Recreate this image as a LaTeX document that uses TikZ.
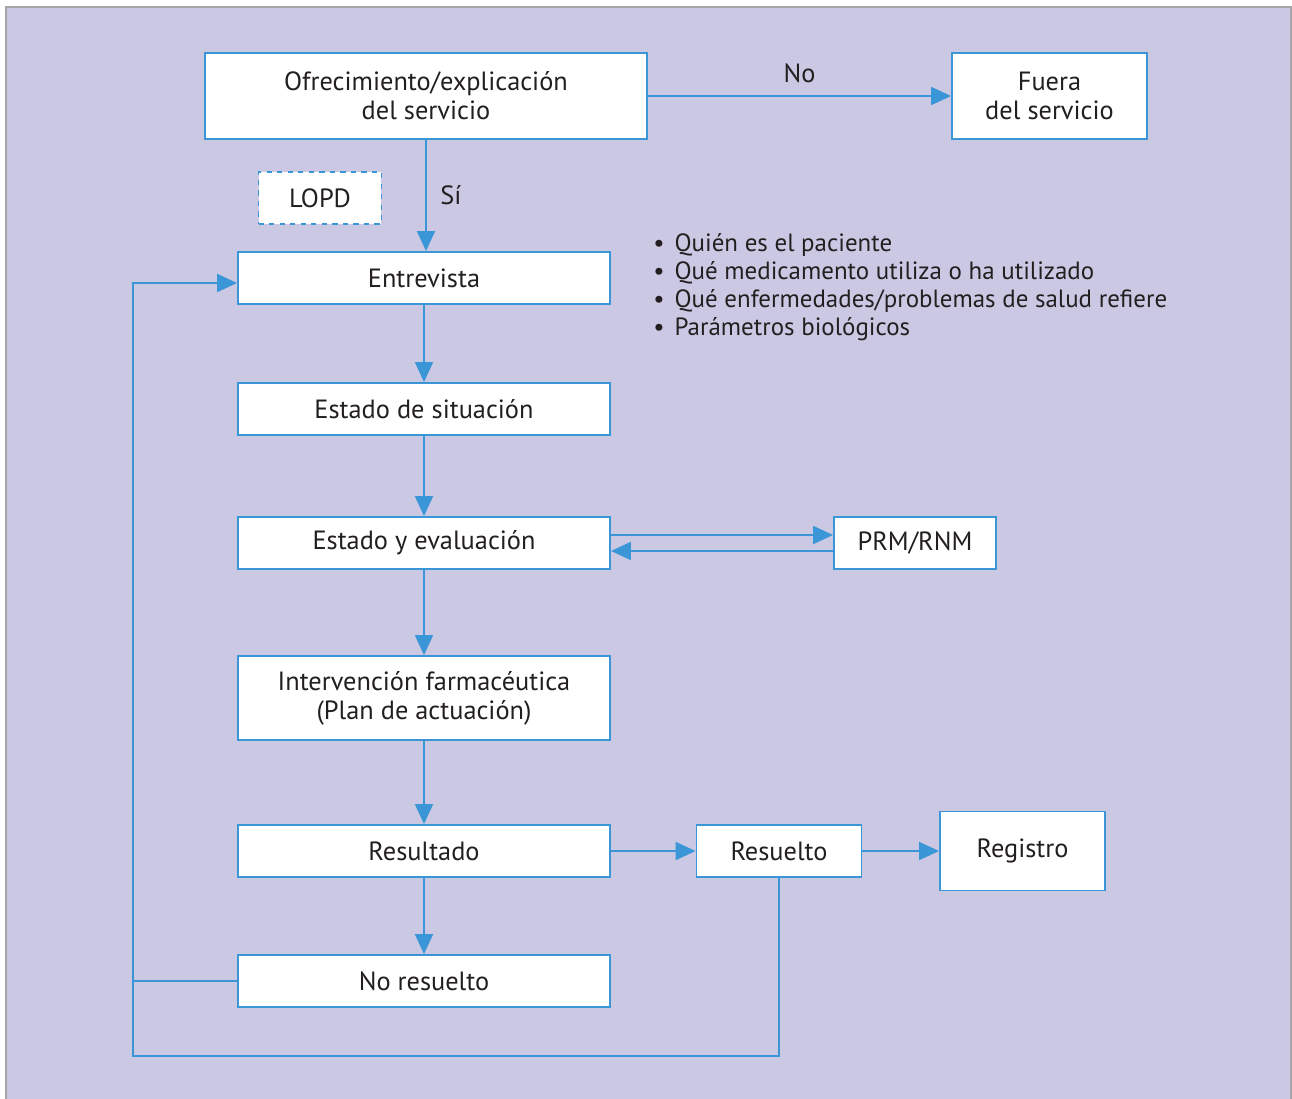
\documentclass[tikz,border=0pt]{standalone}
\usepackage{tikz}
\usepackage{fontspec}
\setmainfont{PT Sans}
\usetikzlibrary{arrows.meta}
\usetikzlibrary{positioning}

\definecolor{fondo}{RGB}{203,200,228}
\definecolor{azul}{RGB}{58,150,215}
\definecolor{texto}{RGB}{35,31,32}

\begin{document}
\begin{tikzpicture}[x=0.02cm, y=-0.02cm,
    caja/.style={draw=azul, fill=white, line width=1.1pt, text=texto,
        align=center, font=\fontsize{15}{16.5}\selectfont, inner sep=2pt},
    flecha/.style={draw=azul, line width=1.1pt, -{Triangle[length=0.4cm,width=0.36cm]}},
    linea/.style={draw=azul, line width=1.1pt},
    etiqueta/.style={text=texto, font=\fontsize{15}{16.5}\selectfont}]

\useasboundingbox (0,0) rectangle (1292,1099);
\fill[fondo] (6,7) rectangle (1291,1099);
\draw[gray!70, line width=1.2pt] (6,1099) -- (6,7) -- (1291,7) -- (1291,1099);

\node[caja, minimum width=8.84cm, minimum height=1.72cm] (ofrec) at (426,96) {Ofrecimiento/explicación\\del servicio};
\node[caja, minimum width=3.9cm, minimum height=1.72cm] (fuera) at (1049.5,96) {Fuera\\del servicio};
\node[caja, dashed, line width=0.8pt, minimum width=2.46cm, minimum height=1.04cm] (lopd) at (320,198) {LOPD};

\node[caja, minimum width=7.44cm, minimum height=1.04cm] (entrev) at (424,278) {Entrevista};
\node[caja, minimum width=7.44cm, minimum height=1.04cm] (sit) at (424,409) {Estado de situación};
\node[caja, minimum width=7.44cm, minimum height=1.04cm] (eval) at (424,543) {Estado y evaluación};
\node[caja, minimum width=3.24cm, minimum height=1.04cm] (prm) at (915,543) {PRM/RNM};
\node[caja, minimum width=7.44cm, minimum height=1.68cm] (interv) at (424,698) {Intervención farmacéutica\\(Plan de actuación)};
\node[caja, minimum width=7.44cm, minimum height=1.04cm] (result) at (424,851) {Resultado};
\node[caja, minimum width=3.3cm, minimum height=1.04cm] (resuelto) at (779,851) {Resuelto};
\node[caja, minimum width=3.3cm, minimum height=1.58cm] (registro) at (1022.5,851) {Registro};
\node[caja, minimum width=7.44cm, minimum height=1.04cm] (noresu) at (424,981) {No resuelto};

\node[text=texto, anchor=north west, align=left, inner sep=0pt,
    font=\fontsize{14.2}{15.9}\selectfont] (lista) at (653,233)
    {\textbullet\hspace{0.4em}Quién es el paciente\\
     \textbullet\hspace{0.4em}Qué medicamento utiliza o ha utilizado\\
     \textbullet\hspace{0.4em}Qué enfermedades/problemas de salud refiere\\
     \textbullet\hspace{0.4em}Parámetros biológicos};

\coordinate (esquina) at (133,1056);

\draw[flecha] (ofrec) -- node[etiqueta, above=0.13cm] {No} (fuera);
\draw[flecha] (ofrec.south) -- node[etiqueta, right=0.15cm] {Sí} (ofrec.south |- entrev.north);
\draw[flecha] (entrev) -- (sit);
\draw[flecha] (sit) -- (eval);
\draw[flecha] ([yshift=0.16cm]eval.east) -- ([yshift=0.16cm]prm.west);
\draw[flecha] ([yshift=-0.16cm]prm.west) -- ([yshift=-0.16cm]eval.east);
\draw[flecha] (eval) -- (interv);
\draw[flecha] (interv) -- (result);
\draw[flecha] (result) -- (noresu);
\draw[flecha] (result) -- (resuelto);
\draw[flecha] (resuelto) -- (registro);

\draw[linea] (resuelto.south) |- (esquina) -- (esquina |- noresu.west);
\draw[flecha] (noresu.west) -- (noresu.west -| esquina) |- ([yshift=-0.1cm]entrev.west);

\end{tikzpicture}
\end{document}
